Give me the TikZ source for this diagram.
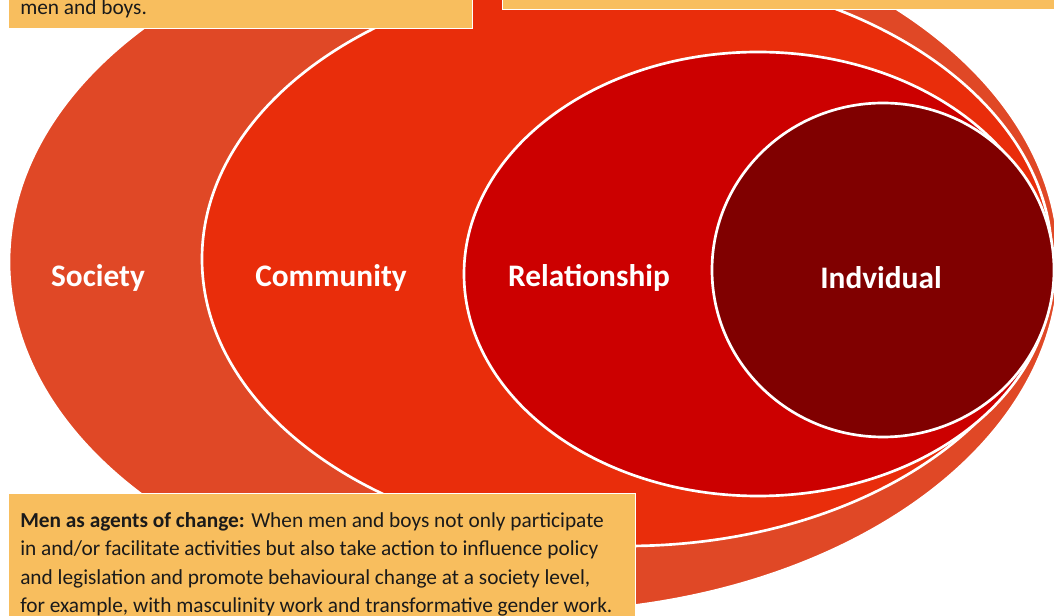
\documentclass[tikz,border=0pt]{standalone}
\usepackage{fontspec}
\setmainfont{Carlito}
\usetikzlibrary{positioning}
\definecolor{society}{HTML}{E04826}
\definecolor{community}{HTML}{E92D0B}
\definecolor{relation}{HTML}{CC0000}
\definecolor{indiv}{HTML}{800000}
\definecolor{note}{HTML}{F8BE5E}
\definecolor{ink}{HTML}{1A1A1A}

\begin{document}
\begin{tikzpicture}[
  x=0.75pt, y=-0.75pt,
  ring/.style={fill=#1, draw=white, line width=2pt},
  lvl/.style={font=\bfseries\fontsize{23.5}{28}\selectfont, text=white, inner sep=0pt},
  notebox/.style={fill=note, draw=white, line width=0.7pt},
  notetext/.style={font=\fontsize{16}{21.3}\selectfont, text=ink, align=left, inner sep=0pt},
]
\useasboundingbox (0,0) rectangle (1054,616);
\clip (0,0) rectangle (1054,616);

% ─── nested levels, outermost first ─────────────────────────────────────────
\filldraw[ring=society]   (534, 262) ellipse [x radius=525, y radius=350];
\filldraw[ring=community] (627, 259) ellipse [x radius=425, y radius=287];
\filldraw[ring=relation]  (758, 274) ellipse [x radius=294, y radius=222];
\filldraw[ring=indiv]     (883, 270) ellipse [x radius=171, y radius=167];

\node[lvl] (society)   at (98, 278)  {Society};
\node[lvl] (community) at (331, 278) {Community};
\node[lvl] (relation)  at (589, 278) {Relationship};
\node[lvl] (indiv)     at (881, 278) {Indvidual};

% ─── notes (top ones run off the page) ──────────────────────────────────────
\filldraw[notebox] (8, -20) rectangle (472, 28);
\node[notetext, anchor=base west] (topnote) at (20, 15) {men and boys.};
\filldraw[notebox] (502, -20) rectangle (1070, 9);

\filldraw[notebox] (8, 493) rectangle (635, 640);
\node[notetext, anchor=north west] (agents) at (20, 512)
  {\textbf{Men as agents of change:} When men and boys not only participate\\
   in and/or facilitate activities but also take action to influence policy\\
   and legislation and promote behavioural change at a society level,\\
   for example, with masculinity work and transformative gender work.};

\end{tikzpicture}
\end{document}
